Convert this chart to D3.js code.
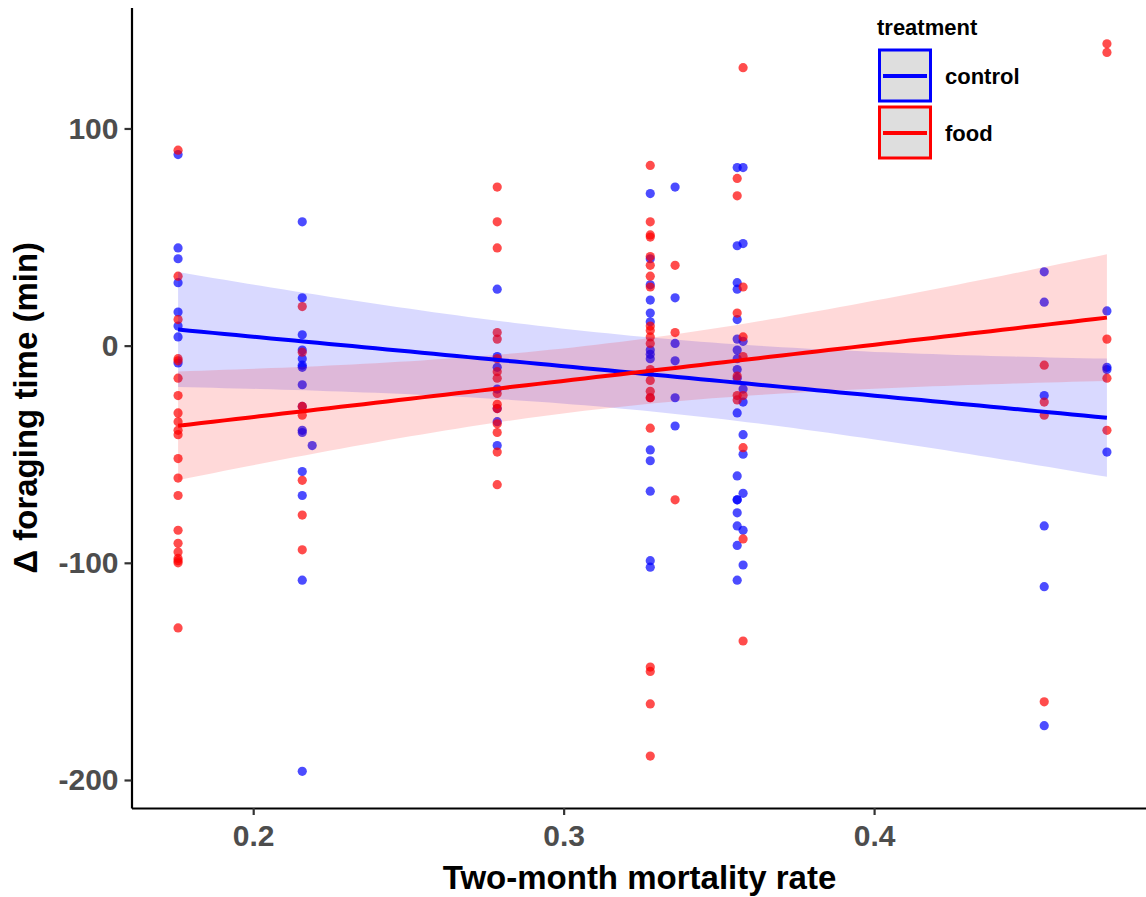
<!DOCTYPE html>
<html>
<head>
<meta charset="utf-8">
<script src="https://cdn.jsdelivr.net/npm/d3@7"></script>
<style>
  html, body { margin: 0; padding: 0; background: #ffffff; }
  svg { display: block; font-family: "Liberation Sans", Arial, sans-serif; }
</style>
</head>
<body>
<svg id="chart" width="1146" height="897"></svg>
<script>
// Two-month mortality rate of each site (x positions of the point columns)
const rates = [0.1758, 0.2158, 0.219, 0.2786, 0.3279, 0.3359, 0.3559, 0.3578, 0.4548, 0.475];

// Change in foraging time (min), control birds, one array per site
const controlValues = [
  [88, 45, 40, 29, 15.5, 9, 4, -8],
  [57, 22, 5, -2, -6, -9, -10, -18, -28, -39, -40, -58, -69, -108, -196],
  [-46],
  [26, -5, -10, -20, -29, -35, -46],
  [70, 40, 28, 21, 15, 11, -2, -4, -6, -48, -53, -67, -99, -102],
  [73, 22, 1, -7, -24, -37],
  [82, 46, 29, 26, 12, 3, -2, -6, -11, -15, -31, -60, -71, -71, -77, -83, -92, -108],
  [82, 47, 2, -20, -26, -41, -50, -68, -85, -101],
  [34, 20, -23, -83, -111, -175],
  [16, -10, -11, -49]
];

// Change in foraging time (min), food-supplemented birds, one array per site
const foodValues = [
  [90, 32, 12, -6, -7, -15, -23, -31, -35, -39, -41, -52, -61, -69, -85, -91, -95, -98, -99, -100, -130],
  [18, -3, -28, -32, -62, -78, -94],
  [],
  [73, 57, 45, 6, 3, -6, -12, -15, -22, -27, -29, -36, -40, -49, -64],
  [83, 57, 51, 50, 41, 37, 32, 27, 9, 7, 4, 1, -11, -16, -21, -24, -24, -38, -148, -150, -165, -189],
  [37, 6, -71],
  [77, 69, 15, -14, -23, -25],
  [128, 27, 4, -5, -23, -47, -89, -136],
  [-9, -26, -32, -164],
  [139, 135, 3, -15, -39]
];

const treatments = ["control", "food"];
const treatmentColors = ["#0000FF", "#FF0000"];
const xTicks = [0.2, 0.3, 0.4];
const yTicks = [-200, -100, 0, 100];

// Model predictions per treatment (control, food): fitted value at the lowest
// and highest mortality rate, and the 95% band half-width h(x) = sqrt(h0² + (g·(x − c))²)
const fitRange = [0.1758, 0.475];
const fitStart = [7.4, -36.9];
const fitEnd = [-33.2, 12.9];
const bandHalfMin = [17.0, 14.9];
const bandGrowth = [139, 151];
const bandCentre = [0.322, 0.309];

const svg = d3.select("#chart");
const panel = { left: 131.5, right: 1153.5, top: 7.5, bottom: 808 };

const x = d3.scaleLinear().domain([0.1608, 0.4900]).range([panel.left, panel.right]);
const y = d3.scaleLinear().domain([-212.9, 155.7]).range([panel.bottom, panel.top]);

function flatten(valuesBySite) {
  const pts = [];
  valuesBySite.forEach((vals, i) => vals.forEach(v => pts.push({ x: rates[i], y: v })));
  return pts;
}

// Prediction line and confidence band of one treatment
function predictionBand(i) {
  const [x0, x1] = fitRange;
  const slope = (fitEnd[i] - fitStart[i]) / (x1 - x0);
  return d3.range(81).map(k => {
    const xv = x0 + (x1 - x0) * k / 80;
    const fit = fitStart[i] + slope * (xv - x0);
    const h = Math.sqrt(bandHalfMin[i] ** 2 + (bandGrowth[i] * (xv - bandCentre[i])) ** 2);
    return { x: xv, fit, lo: fit - h, hi: fit + h };
  });
}

const groups = [controlValues, foodValues].map((vals, i) => ({
  name: treatments[i],
  color: treatmentColors[i],
  points: flatten(vals),
  band: predictionBand(i)
}));

svg.append("clipPath").attr("id", "panel-clip").append("rect")
  .attr("x", panel.left).attr("y", panel.top)
  .attr("width", panel.right - panel.left).attr("height", panel.bottom - panel.top);
const plot = svg.append("g").attr("clip-path", "url(#panel-clip)");

// Points
groups.forEach(g => {
  plot.append("g").selectAll("circle").data(g.points).join("circle")
    .attr("cx", d => x(d.x)).attr("cy", d => y(d.y)).attr("r", 4.6)
    .attr("fill", g.color).attr("fill-opacity", 0.7);
});

// Confidence ribbons
const area = d3.area().x(d => x(d.x)).y0(d => y(d.lo)).y1(d => y(d.hi));
groups.forEach(g => {
  plot.append("path").datum(g.band).attr("d", area)
    .attr("fill", g.color).attr("fill-opacity", 0.15);
});

// Regression lines
const line = d3.line().x(d => x(d.x)).y(d => y(d.fit));
groups.forEach(g => {
  plot.append("path").datum(g.band).attr("d", line)
    .attr("fill", "none").attr("stroke", g.color).attr("stroke-width", 4);
});

// Axes
const xAxis = d3.axisBottom(x).tickValues(xTicks).tickFormat(d3.format(".1f"))
  .tickSizeInner(7).tickSizeOuter(0).tickPadding(10);
const yAxis = d3.axisLeft(y).tickValues(yTicks).tickFormat(d => d < 0 ? "-" + Math.abs(d) : String(d))
  .tickSizeInner(7).tickSizeOuter(0).tickPadding(6);

const gx = svg.append("g").attr("transform", `translate(0,${panel.bottom})`).call(xAxis);
const gy = svg.append("g").attr("transform", `translate(${panel.left},0)`).call(yAxis);
[gx, gy].forEach(g => {
  g.select(".domain").attr("stroke", "#000").attr("stroke-width", 2.2);
  g.selectAll(".tick line").attr("stroke", "#333").attr("stroke-width", 2.2);
  g.selectAll(".tick text").attr("fill", "#4d4d4d").attr("font-size", 30)
    .attr("font-weight", "bold").attr("font-family", "'Liberation Sans', Arial, sans-serif");
});

// Axis titles
svg.append("text").attr("x", (panel.left + panel.right) / 2 - 3).attr("y", 889)
  .attr("text-anchor", "middle").attr("font-size", 33).attr("font-weight", "bold")
  .text("Two-month mortality rate");
svg.append("text").attr("transform", `translate(37,${(panel.top + panel.bottom) / 2}) rotate(-90)`)
  .attr("text-anchor", "middle").attr("font-size", 33).attr("font-weight", "bold")
  .text("Δ foraging time (min)");

// Legend
const legend = svg.append("g").attr("transform", "translate(877,0)");
legend.append("text").attr("x", 0).attr("y", 35).attr("font-size", 22).attr("font-weight", "bold")
  .text("treatment");
groups.forEach((g, i) => {
  const top = 50 + i * 57;
  const row = legend.append("g").attr("transform", `translate(0,${top})`);
  row.append("rect").attr("x", 2.5).attr("y", 0).attr("width", 51).attr("height", 51)
    .attr("fill", "#dedede").attr("stroke", g.color).attr("stroke-width", 3);
  row.append("line").attr("x1", 6).attr("x2", 50).attr("y1", 26).attr("y2", 26)
    .attr("stroke", g.color).attr("stroke-width", 4);
  row.append("text").attr("x", 68).attr("y", 34).attr("font-size", 22).attr("font-weight", "bold")
    .text(g.name);
});
</script>
</body>
</html>
